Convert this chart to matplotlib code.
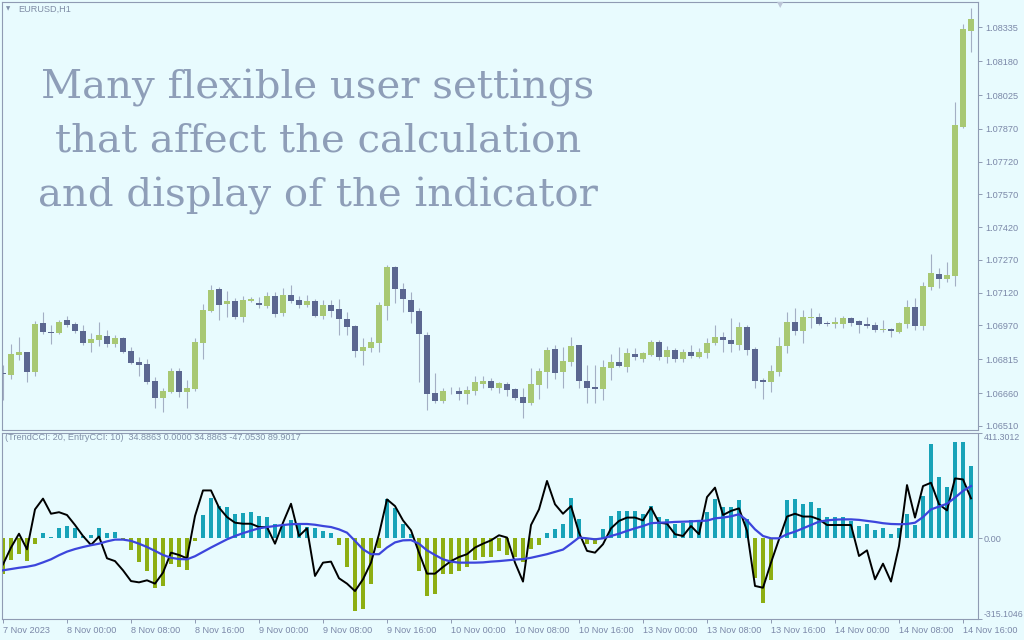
import matplotlib
matplotlib.use("Agg")
import matplotlib.pyplot as plt
import numpy as np

# EURUSD H1 candles, 7 Nov 2023 16:00 .. 14 Nov 2023
opens = [
    1.06752, 1.06743, 1.06834, 1.06848, 1.06757, 1.06981, 1.06940, 1.06935,
    1.06994, 1.06976, 1.06944, 1.06889, 1.06903, 1.06921, 1.06885, 1.06912,
    1.06853, 1.06802, 1.06793, 1.06715, 1.06637, 1.06665, 1.06761, 1.06665,
    1.06679, 1.06889, 1.07036, 1.07136, 1.07068, 1.07081, 1.07008, 1.07081,
    1.07072, 1.07058, 1.07104, 1.07026, 1.07109, 1.07086, 1.07063, 1.07081,
    1.07013, 1.07063, 1.07045, 1.06999, 1.06967, 1.06853, 1.06866, 1.06889,
    1.07058, 1.07237, 1.07136, 1.07086, 1.07036, 1.06926, 1.06660, 1.06624,
    1.06670, 1.06670, 1.06656, 1.06670, 1.06702, 1.06715, 1.06683, 1.06702,
    1.06679, 1.06642, 1.06614, 1.06697, 1.06757, 1.06862, 1.06757, 1.06802,
    1.06880, 1.06715, 1.06688, 1.06679, 1.06775, 1.06802, 1.06779, 1.06839,
    1.06816, 1.06834, 1.06894, 1.06825, 1.06857, 1.06816, 1.06848, 1.06825,
    1.06843, 1.06889, 1.06917, 1.06903, 1.06880, 1.06962, 1.06862, 1.06720,
    1.06711, 1.06757, 1.06875, 1.06985, 1.06944, 1.07004, 1.07008, 1.06981,
    1.06976, 1.06976, 1.07004, 1.06990, 1.06976, 1.06971, 1.06949, 1.06953,
    1.06940, 1.06976, 1.07054, 1.06967, 1.07146, 1.07205, 1.07182, 1.07196,
    1.07878, 1.08318,
]
highs = [
    1.06789, 1.06885, 1.06917, 1.06848, 1.06990, 1.07031, 1.06971, 1.06994,
    1.07013, 1.06985, 1.06971, 1.06935, 1.06985, 1.06949, 1.06926, 1.06917,
    1.06871, 1.06825, 1.06816, 1.06734, 1.06683, 1.06775, 1.06775, 1.06720,
    1.06912, 1.07068, 1.07155, 1.07146, 1.07127, 1.07095, 1.07104, 1.07100,
    1.07100, 1.07123, 1.07123, 1.07141, 1.07155, 1.07104, 1.07109, 1.07091,
    1.07086, 1.07086, 1.07091, 1.07031, 1.06971, 1.06912, 1.06917, 1.07077,
    1.07246, 1.07242, 1.07164, 1.07123, 1.07049, 1.06940, 1.06752, 1.06683,
    1.06688, 1.06688, 1.06692, 1.06738, 1.06738, 1.06729, 1.06711, 1.06711,
    1.06683, 1.06683, 1.06775, 1.06775, 1.06871, 1.06880, 1.06871, 1.06917,
    1.06880, 1.06789, 1.06789, 1.06811, 1.06839, 1.06871, 1.06866, 1.06866,
    1.06848, 1.06903, 1.06903, 1.06875, 1.06866, 1.06862, 1.06880, 1.06866,
    1.06912, 1.06971, 1.06940, 1.07004, 1.06985, 1.06971, 1.06871, 1.06729,
    1.06789, 1.06917, 1.07031, 1.07049, 1.07040, 1.07049, 1.07026, 1.06990,
    1.07008, 1.07013, 1.07008, 1.06994, 1.07008, 1.06985, 1.06994, 1.06958,
    1.06985, 1.07086, 1.07095, 1.07168, 1.07297, 1.07233, 1.07260, 1.07993,
    1.08350, 1.08423,
]
lows = [
    1.06628, 1.06725, 1.06811, 1.06711, 1.06738, 1.06930, 1.06885, 1.06930,
    1.06962, 1.06935, 1.06880, 1.06848, 1.06875, 1.06871, 1.06871, 1.06843,
    1.06793, 1.06738, 1.06702, 1.06592, 1.06573, 1.06660, 1.06642, 1.06592,
    1.06670, 1.06816, 1.07031, 1.06994, 1.07008, 1.06999, 1.06985, 1.07077,
    1.07049, 1.07049, 1.07008, 1.07013, 1.07072, 1.07049, 1.07054, 1.07008,
    1.06999, 1.07008, 1.06926, 1.06926, 1.06825, 1.06789, 1.06848, 1.06848,
    1.06994, 1.07072, 1.07031, 1.06981, 1.06711, 1.06583, 1.06614, 1.06614,
    1.06656, 1.06628, 1.06610, 1.06651, 1.06683, 1.06674, 1.06660, 1.06647,
    1.06628, 1.06546, 1.06605, 1.06633, 1.06683, 1.06725, 1.06683, 1.06784,
    1.06683, 1.06614, 1.06614, 1.06628, 1.06720, 1.06779, 1.06757, 1.06811,
    1.06802, 1.06830, 1.06811, 1.06798, 1.06802, 1.06802, 1.06821, 1.06821,
    1.06821, 1.06880, 1.06848, 1.06848, 1.06857, 1.06834, 1.06683, 1.06633,
    1.06665, 1.06738, 1.06843, 1.06926, 1.06889, 1.06958, 1.06971, 1.06967,
    1.06958, 1.06958, 1.06967, 1.06935, 1.06958, 1.06940, 1.06940, 1.06917,
    1.06935, 1.06958, 1.06949, 1.06949, 1.07132, 1.07141, 1.07168, 1.07150,
    1.07874, 1.08222,
]
closes = [
    1.06747, 1.06839, 1.06848, 1.06757, 1.06976, 1.06940, 1.06935, 1.06985,
    1.06971, 1.06944, 1.06889, 1.06908, 1.06926, 1.06885, 1.06912, 1.06848,
    1.06798, 1.06789, 1.06711, 1.06637, 1.06670, 1.06761, 1.06665, 1.06683,
    1.06894, 1.07040, 1.07132, 1.07063, 1.07081, 1.07008, 1.07086, 1.07091,
    1.07063, 1.07104, 1.07022, 1.07109, 1.07081, 1.07063, 1.07081, 1.07013,
    1.07063, 1.07036, 1.06999, 1.06962, 1.06853, 1.06871, 1.06894, 1.07063,
    1.07237, 1.07136, 1.07091, 1.07031, 1.06930, 1.06656, 1.06624, 1.06670,
    1.06668, 1.06656, 1.06674, 1.06711, 1.06715, 1.06683, 1.06706, 1.06674,
    1.06637, 1.06614, 1.06702, 1.06761, 1.06857, 1.06752, 1.06807, 1.06875,
    1.06715, 1.06683, 1.06679, 1.06779, 1.06802, 1.06784, 1.06843, 1.06825,
    1.06843, 1.06894, 1.06825, 1.06857, 1.06816, 1.06848, 1.06830, 1.06848,
    1.06889, 1.06917, 1.06903, 1.06885, 1.06962, 1.06857, 1.06715, 1.06711,
    1.06761, 1.06875, 1.06985, 1.06944, 1.07008, 1.07008, 1.06976, 1.06976,
    1.06985, 1.07004, 1.06981, 1.06971, 1.06967, 1.06949, 1.06953, 1.06944,
    1.06981, 1.07054, 1.06967, 1.07150, 1.07210, 1.07182, 1.07200, 1.07888,
    1.08327, 1.08373,
]

# indicator window: TrendCCI histogram, EntryCCI line, and its smoothed line
trend_cci = [
    -141, -86, -60, -89, -23, 22, 7, 39, 48, 39, 9, 12, 42, 22, 25, -3,
    -47, -91, -128, -193, -186, -102, -112, -125, -10, 90, 159, 126, 124, 96, 100, 104,
    87, 85, 57, 52, 70, 61, 44, 42, 29, 22, -26, -112, -284, -277, -180, -36,
    152, 120, 57, 16, -128, -225, -216, -141, -138, -128, -112, -86, -73, -73, -49, -65,
    -73, -91, -43, -26, 22, 35, 57, 159, 74, -23, -23, 35, 87, 107, 107, 107,
    94, 126, 83, 77, 57, 61, 70, 68, 104, 155, 122, 124, 148, 77, -154, -251,
    -164, 3, 148, 152, 135, 143, 117, 83, 83, 83, 68, 48, 57, 33, 39, 16,
    39, 96, 52, 165, 370, 238, 201, 378, 378, 283,
]
entry_cci = [
    -102, -36, 18, -43, 113, 155, 96, 102, 91, 52, 9, -26, 7, -78, -89, -125,
    -167, -172, -164, -177, -134, -56, -65, -78, 87, 187, 187, 120, 83, 61, 57, 57,
    44, 44, -21, 61, 135, 9, 39, -147, -95, -91, -156, -177, -206, -160, -95, 16,
    152, 126, 70, 31, -56, -138, -138, -112, -89, -73, -62, -36, -21, -8, 12, 3,
    -95, -169, 52, 113, 224, 133, 96, 126, 22, -49, -56, -23, 39, 68, 81, 81,
    70, 120, 61, 57, 16, 9, 48, 16, 161, 198, 91, 107, 117, 29, -186, -193,
    -95, -4, 85, 96, 85, 85, 74, 52, 52, 52, 52, -69, -47, -160, -99, -169,
    -30, 208, 81, 204, 217, 133, 109, 234, 230, 156,
]
signal = [
    -125, -120, -115, -111, -105, -94, -82, -66, -52, -42, -34, -27, -21, -12, -5, -5,
    -10, -21, -34, -49, -65, -76, -81, -82, -70, -53, -36, -20, -4, 9, 20, 30,
    39, 44, 48, 52, 55, 56, 56, 53, 48, 44, 35, 22, -10, -43, -62, -62,
    -36, -16, -8, -7, -21, -47, -65, -82, -91, -95, -95, -95, -94, -91, -89, -86,
    -83, -81, -76, -69, -62, -53, -44, -21, 3, 0, -4, 0, 9, 18, 29, 39,
    48, 59, 61, 62, 64, 65, 66, 68, 69, 78, 81, 86, 94, 70, 35, 9,
    0, 0, 16, 26, 39, 52, 65, 70, 73, 74, 74, 72, 68, 64, 59, 56,
    55, 56, 61, 83, 113, 124, 135, 159, 185, 204,
]

price_ticks = [1.08335, 1.08180, 1.08025, 1.07870, 1.07720, 1.07570, 1.07420,
               1.07270, 1.07120, 1.06970, 1.06815, 1.06660, 1.06510]
time_labels = ["7 Nov 2023", "8 Nov 00:00", "8 Nov 08:00", "8 Nov 16:00",
               "9 Nov 00:00", "9 Nov 08:00", "9 Nov 16:00", "10 Nov 00:00",
               "10 Nov 08:00", "10 Nov 16:00", "13 Nov 00:00", "13 Nov 08:00",
               "13 Nov 16:00", "14 Nov 00:00", "14 Nov 08:00", "14 Nov 16:00"]
cci_max = 411.3012
cci_min = -315.1046

bg = "#E8FBFE"
frame = "#8F9BB3"
label_col = "#7B88A8"
bull = "#A8C873"
bear = "#5B6790"
wick = "#A3AFC4"

n = len(opens)
x = np.arange(n)
o = np.array(opens)
c = np.array(closes)
up = c >= o

fig = plt.figure(figsize=(10.24, 6.4), dpi=100)
fig.patch.set_facecolor(bg)
ax = fig.add_axes([2 / 1024, 1 - 430 / 640, 976 / 1024, 428 / 640])
ax2 = fig.add_axes([2 / 1024, 1 - 619 / 640, 976 / 1024, 186 / 640])

for a in (ax, ax2):
    a.set_facecolor(bg)
    a.set_xlim(-0.125, 121.875)
    for s in a.spines.values():
        s.set_color(frame)
        s.set_linewidth(0.8)
    a.yaxis.tick_right()
    a.tick_params(axis="both", colors=frame, labelcolor=label_col, length=3,
                  width=0.7, labelsize=6.6, pad=2)
ax2.tick_params(axis="y", pad=1)

# candles
ax.vlines(x, lows, highs, color=wick, linewidth=0.8, zorder=1)
body_lo = np.minimum(o, c)
body_h = np.maximum(np.abs(c - o), 0.00003)
ax.bar(x, body_h, bottom=body_lo, width=0.75,
       color=np.where(up, bull, bear), linewidth=0, zorder=2)
ax.set_ylim(1.06491, 1.08451)
ax.set_yticks(price_ticks)
ax.set_yticklabels([f"{p:.5f}" for p in price_ticks], family="Liberation Sans")
ax.set_xticks([])

# indicator
h = np.array(trend_cci)
ax2.bar(x, h, width=0.42, color=np.where(h >= 0, "#18A3B8", "#8DAE12"),
        linewidth=0, zorder=1)
ax2.plot(x, entry_cci, color="black", linewidth=1.4, zorder=2)
ax2.plot(x, signal, color="#3C45DC", linewidth=1.6, zorder=3)
ax2.set_ylim(cci_min, cci_max)
ax2.set_yticks([cci_max, 0, cci_min])
ax2.set_yticklabels([f"{cci_max:.4f}", "0.00", f"{cci_min:.4f}"],
                    family="Liberation Sans")
ylabs = ax2.get_yticklabels()
ylabs[0].set_va("top")
ylabs[2].set_va("bottom")
ylabs[0].set_fontsize(6.3)
ylabs[2].set_fontsize(6.3)
ax2.set_xticks(range(0, n, 8))
ax2.set_xticklabels(time_labels, ha="left", family="Liberation Sans")

# labels
fig.text(8 / 1024, 1 - 9 / 640, "\u25bc", fontsize=4, color="#8090A8",
         family="DejaVu Sans", ha="center", va="center")
fig.text(18 / 1024, 1 - 9 / 640, "EURUSD,H1", fontsize=6.6, color="#7F8CA5",
         family="Liberation Sans", va="center")
fig.text(780 / 1024, 1 - 5 / 640, "\u25bc", fontsize=6, color="#BCC6D8",
         family="DejaVu Sans", ha="center", va="center")
fig.text(5 / 1024, 1 - 438 / 640,
         "(TrendCCI: 20, EntryCCI: 10)  34.8863 0.0000 34.8863 -47.0530 89.9017",
         fontsize=6.6, color="#8090A8", family="Liberation Sans", va="center")

fig.text(318 / 1024, 1 - 142 / 640,
         "Many flexible user settings\nthat affect the calculation\nand display of the indicator",
         fontsize=29, color="#8E9EB8", family="DejaVu Serif", ha="center",
         va="center", linespacing=1.55)

fig.savefig("out.png", dpi=100, facecolor=bg)
